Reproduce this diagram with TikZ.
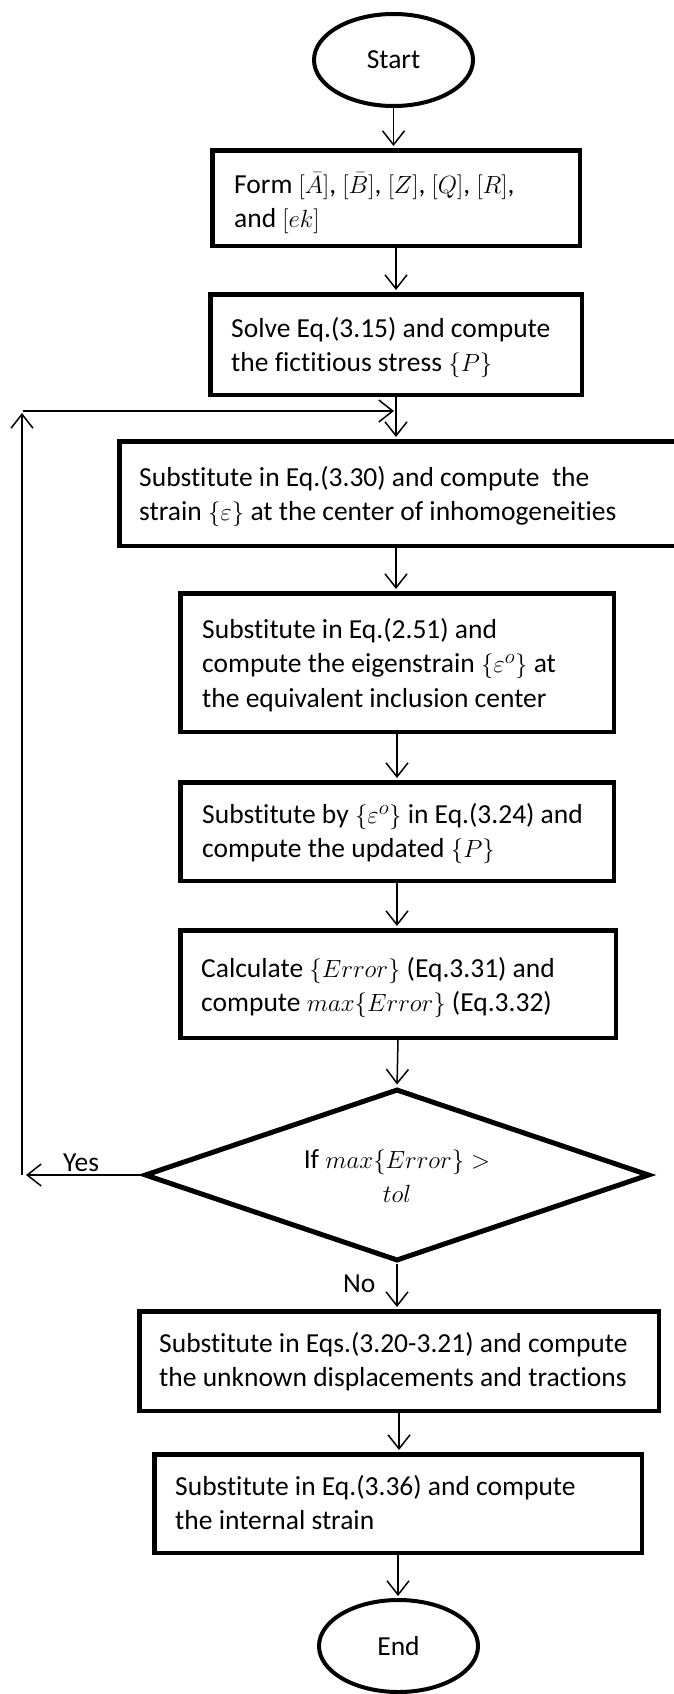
\documentclass[tikz,border=0pt]{standalone}
\usepackage{fontspec}
\setmainfont[Ligatures={NoCommon,NoRequired,NoContextual}]{Carlito}
\usetikzlibrary{shapes.geometric,arrows.meta}
\tikzset{
  box/.style={draw, line width=4.5pt, rectangle, inner sep=0pt},
  term/.style={draw, line width=4pt, ellipse, inner sep=0pt, minimum width=159pt, minimum height=92pt, font=\fontsize{27.5}{34.5}\selectfont},
  dec/.style={draw, line width=5pt, diamond, inner sep=0pt, minimum width=505pt, minimum height=172pt},
  txt/.style={anchor=north west, inner sep=0pt, align=left, font=\fontsize{27.5}{34.5}\selectfont},
  ctxt/.style={anchor=north, inner sep=0pt, align=center, font=\fontsize{27.5}{34.5}\selectfont},
  lbl/.style={anchor=base west, inner sep=0pt, font=\fontsize{27.5}{34.5}\selectfont},
  arr/.style={line width=1.5pt, -{Straight Barb[length=14pt,width=22pt,line width=1.5pt]}, shorten >=2pt}
}
\begin{document}
\begin{tikzpicture}[x=1pt,y=-1pt]
\useasboundingbox (0,0) rectangle (673,1694);
% shapes
\node[term] (start) at (393.5,60) {Start};
\node[box, minimum width=367.5pt, minimum height=95.5pt] (b1) at (396,198) {};
\node[box, minimum width=371.5pt, minimum height=100.5pt] (b2) at (396,344.5) {};
\node[box, minimum width=558.5pt, minimum height=104.5pt] (b3) at (398.5,493.5) {};
\node[box, minimum width=433.5pt, minimum height=138.5pt] (b4) at (397,662.5) {};
\node[box, minimum width=433.5pt, minimum height=98.5pt] (b5) at (397,831.5) {};
\node[box, minimum width=435.5pt, minimum height=107.5pt] (b6) at (398,984) {};
\node[dec] (d) at (397,1175) {};
\node[box, minimum width=519.5pt, minimum height=99.5pt] (b7) at (399,1361) {};
\node[box, minimum width=487.5pt, minimum height=98.5pt] (b8) at (398,1503.5) {};
\node[term] (end) at (398.5,1646) {End};
% texts
\node[txt] (t1) at (234,{193-24.15}) {\strut Form $[\bar{A}]$, $[\bar{B}]$, $[Z]$, $[Q]$, $[R]$,\\\strut and $[ek]$};
\node[txt] (t2) at (231,{337-24.15}) {\strut Solve Eq.(3.15) and compute\\\strut the fictitious stress $\{P\}$};
\node[txt] (t3) at (139,{486-24.15}) {\strut Substitute in Eq.(3.30) and compute\ \ the\\\strut strain $\{\varepsilon\}$ at the center of inhomogeneities};
\node[txt] (t4) at (202,{638-24.15}) {\strut Substitute in Eq.(2.51) and\\\strut compute the eigenstrain $\{\varepsilon^{o}\}$ at\\\strut the equivalent inclusion center};
\node[txt] (t5) at (202,{823-24.15}) {\strut Substitute by $\{\varepsilon^{o}\}$ in Eq.(3.24) and\\\strut compute the updated $\{P\}$};
\node[txt] (t6) at (201,{977-24.15}) {\strut Calculate $\{Error\}$ (Eq.3.31) and\\\strut compute $max\{Error\}$ (Eq.3.32)};
\node[ctxt] (td) at (397,{1168-24.15}) {\strut If $max\{Error\} >$\\\strut $tol$};
\node[txt] (t7) at (159,{1352-24.15}) {\strut Substitute in Eqs.(3.20-3.21) and compute\\\strut the unknown displacements and tractions};
\node[txt] (t8) at (175,{1495-24.15}) {\strut Substitute in Eq.(3.36) and compute\\\strut the internal strain};
\node[lbl] (yes) at (63,1171) {Yes};
\node[lbl] (no) at (343,1292) {No};
% connectors
\coordinate (lb) at (22,1175);
\coordinate (lt) at (22,413);
\coordinate (hl) at (23,411);
\coordinate (hr) at (394,411);
\coordinate (ye) at (26,1175);
\draw[arr] (start.south) -- (start.south |- b1.north);
\draw[arr] (b1.south) -- (b1.south |- b2.north);
\draw[arr] (b2.south) -- (b2.south |- b3.north);
\draw[arr] (b2.south |- b3.south) -- (b2.south |- b4.north);
\draw[arr] (b4.south) -- (b4.south |- b5.north);
\draw[arr] (b5.south) -- (b5.south |- b6.north);
\draw[arr] (b6.south) -- (d.north);
\draw[arr] (d.south) -- (d.south |- b7.north);
\draw[arr] (b7.south) -- (b7.south |- b8.north);
\draw[arr] (b8.south) -- (b8.south |- end.north);
\draw[arr, shorten >=0pt] (d.west) -- (ye);
\draw[arr, shorten >=0pt] (lb) -- (lt);
\draw[arr, shorten >=0pt] (hl) -- (hr);
\end{tikzpicture}
\end{document}
